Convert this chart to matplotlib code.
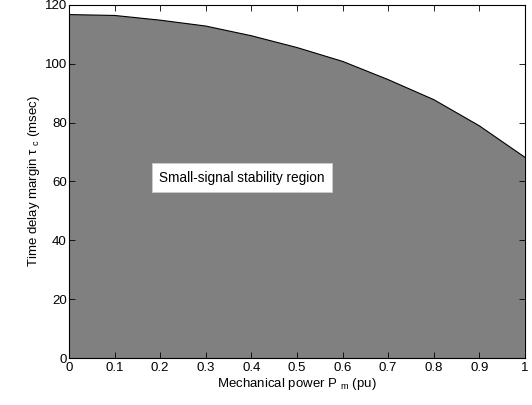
import matplotlib
matplotlib.use("Agg")
import matplotlib.pyplot as plt
import numpy as np

plt.rcParams['font.family'] = ['Liberation Sans', 'DejaVu Sans']
plt.rcParams['mathtext.fontset'] = 'custom'
plt.rcParams['mathtext.rm'] = 'Liberation Sans'
plt.rcParams['mathtext.it'] = 'Liberation Sans'

power = [0.0, 0.1, 0.2, 0.3, 0.4, 0.5, 0.6, 0.7, 0.8, 0.9, 1.0]
margin = [116.7, 116.4, 114.8, 112.8, 109.5, 105.5, 100.8, 94.6, 87.8, 78.9, 68.2]
xticks = [0, 0.1, 0.2, 0.3, 0.4, 0.5, 0.6, 0.7, 0.8, 0.9, 1]
xticklabels = ['0', '0.1', '0.2', '0.3', '0.4', '0.5', '0.6', '0.7', '0.8', '0.9', '1']
yticks = [0, 20, 40, 60, 80, 100, 120]

fig = plt.figure(figsize=(5.32, 4.05), dpi=100)
ax = fig.add_axes([0.1297, 0.116, 0.857, 0.872])
ax.fill_between(power, 0, margin, facecolor='#808080', edgecolor='none')
ax.plot(power, margin, color='black', lw=0.8)
ax.set_xlim(0, 1)
ax.set_ylim(0, 120)
ax.set_xticks(xticks)
ax.set_xticklabels(xticklabels)
ax.set_yticks(yticks)
ax.tick_params(direction='in', top=True, right=True, labelsize=9.5, length=4, width=0.6, pad=1.5)
ax.tick_params(axis='x', pad=3)
for s in ax.spines.values():
    s.set_linewidth(0.8)
ax.set_xlabel('Mechanical power P $_{m}$ (pu)', fontsize=9.5, labelpad=1)
ax.set_ylabel(r'Time delay margin $\tau$ $_{c}$ (msec)', fontsize=9.5, labelpad=2)
ax.text(0.379, 61.2, 'Small-signal stability region', fontsize=9.8, ha='center', va='center',
        bbox=dict(facecolor='white', edgecolor='#d0d0d0', linewidth=0.5, boxstyle='square,pad=0.55'))
fig.savefig('out.png', dpi=100)
